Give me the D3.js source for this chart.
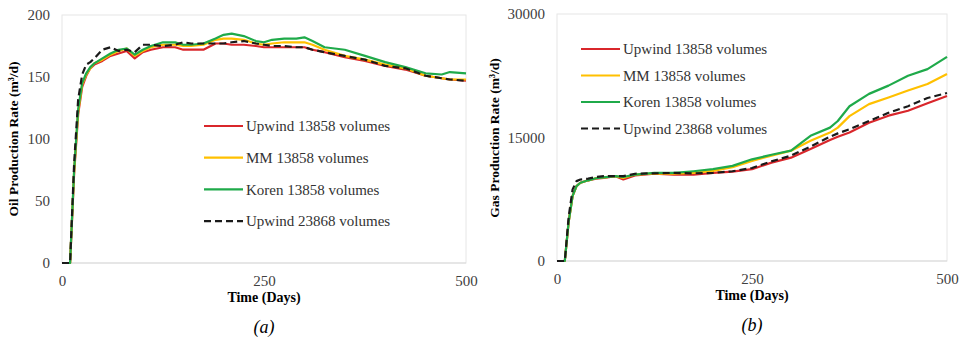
<!DOCTYPE html>
<html>
<head>
<meta charset="utf-8">
<script src="https://cdn.jsdelivr.net/npm/d3@7/dist/d3.min.js"></script>
<style>
  body { margin: 0; background: #fff; }
  svg text { font-family: "Liberation Serif", "DejaVu Serif", serif; }
</style>
</head>
<body>
<svg id="chart" width="961" height="343"></svg>
<script>
// series names / colours
const seriesNames = ["Upwind 13858 volumes", "MM 13858 volumes", "Koren 13858 volumes", "Upwind 23868 volumes"];
const seriesColors = ["#d9262b", "#ffc000", "#1faa4a", "#1a1a1a"];
const serif = "Liberation Serif, DejaVu Serif, serif";

// (a) oil production rate, m3/d
const oilDays   = [0, 10, 15, 20, 25, 30, 35, 40, 50, 60, 70, 80, 90, 100, 110, 125, 140, 150, 160, 175, 190, 200, 210, 225, 240, 250, 260, 275, 290, 300, 310, 325, 350, 375, 400, 425, 450, 470, 480, 500];
const oilUpwind = [0, 0, 72, 120, 142, 151, 157, 160, 163, 167, 169, 171, 165, 170, 172, 174, 174, 172, 172, 172, 177, 177, 176, 176, 175, 174, 174, 174, 174, 174, 172, 170, 166, 163, 159, 156, 151, 149, 148, 147];
const oilMM     = [0, 0, 74, 122, 144, 152, 157, 161, 164, 168, 171, 173, 167, 171, 174, 176, 176, 175, 175, 176, 180, 181, 181, 180, 177, 176, 177, 178, 178, 178, 176, 172, 167, 164, 160, 157, 151, 149, 148, 148];
const oilKoren  = [0, 0, 75, 124, 145, 153, 158, 161, 165, 169, 172, 173, 168, 172, 175, 178, 178, 176, 176, 177, 181, 184, 185, 183, 179, 178, 180, 181, 181, 182, 179, 174, 172, 167, 162, 158, 153, 152, 154, 153];
const oilFine   = [0, 0, 80, 132, 152, 160, 162, 165, 172, 174, 171, 172, 170, 176, 176, 175, 176, 178, 177, 177, 177, 177, 178, 179, 177, 176, 175, 175, 174, 174, 172, 170, 167, 164, 159, 157, 151, 149, 148, 147];

// (b) gas production rate, m3/d
const gasDays   = [0, 10, 15, 20, 25, 30, 40, 50, 60, 75, 85, 100, 125, 150, 175, 200, 225, 250, 275, 300, 325, 350, 360, 375, 400, 425, 450, 475, 500];
const gasUpwind = [0, 0, 4800, 7900, 9100, 9500, 9800, 10000, 10100, 10300, 9900, 10400, 10600, 10500, 10500, 10700, 10850, 11150, 11950, 12550, 13600, 14700, 15100, 15600, 16800, 17650, 18250, 19150, 20050];
const gasMM     = [0, 0, 4800, 7900, 9100, 9500, 9800, 10050, 10150, 10300, 10100, 10500, 10650, 10600, 10700, 10950, 11400, 12150, 12800, 13400, 14600, 15600, 16200, 17600, 19050, 19850, 20700, 21500, 22700];
const gasKoren  = [0, 0, 4800, 7900, 9100, 9500, 9800, 10050, 10150, 10300, 10200, 10500, 10700, 10700, 10900, 11150, 11550, 12350, 12900, 13400, 15200, 16200, 17000, 18800, 20300, 21300, 22500, 23300, 24800];
const gasFine   = [0, 0, 5400, 8700, 9700, 9900, 10000, 10200, 10300, 10300, 10300, 10600, 10650, 10700, 10650, 10700, 10900, 11300, 12100, 12800, 13900, 15100, 15500, 16000, 17000, 18000, 18800, 19800, 20400];

const xTicks = [0, 250, 500];
const oilTicks = [0, 50, 100, 150, 200];
const gasTicks = [0, 15000, 30000];

let svg = d3.select("#chart");

function drawChart(opt) {
    let x = d3.scaleLinear().domain([0, 500]).range([opt.left, opt.right]);
    let y = d3.scaleLinear().domain(opt.yDomain).range([opt.bottom, opt.top]);
    let g = svg.append("g");

    // plot frame
    g.append("rect")
        .attr("x", opt.left).attr("y", opt.top)
        .attr("width", opt.right - opt.left).attr("height", opt.bottom - opt.top)
        .attr("fill", "none").attr("stroke", "#e6e6e6").attr("stroke-width", 1);
    g.append("line")
        .attr("x1", opt.left).attr("x2", opt.right)
        .attr("y1", opt.bottom).attr("y2", opt.bottom)
        .attr("stroke", "#d9d9d9");

    let yAxis = g.append("g")
        .attr("transform", "translate(" + (opt.left - 12) + ",0)")
        .call(d3.axisLeft(y).tickValues(opt.yTicks).tickSize(0).tickPadding(0).tickFormat(d3.format("d")));
    yAxis.select(".domain").remove();

    let xAxis = g.append("g")
        .attr("transform", "translate(0," + (opt.bottom + 12) + ")")
        .call(d3.axisBottom(x).tickValues(xTicks).tickSize(0).tickPadding(0));
    xAxis.select(".domain").remove();

    [yAxis, xAxis].forEach(a => a.attr("font-family", serif).attr("font-size", 15)
        .selectAll("text").attr("fill", "#404040"));

    // titles
    g.append("text")
        .attr("x", (opt.left + opt.right) / 2)
        .attr("y", opt.bottom + 39)
        .attr("text-anchor", "middle")
        .attr("font-family", serif)
        .style("font-weight", "bold").style("font-size", "14px")
        .text("Time (Days)");
    g.append("text")
        .attr("transform", "translate(" + opt.yTitleX + "," + opt.yTitleY + ") rotate(-90)")
        .attr("text-anchor", "middle")
        .attr("font-family", serif)
        .style("font-weight", "bold").style("font-size", "13.5px")
        .text(opt.yTitle);
    g.append("text")
        .attr("x", (opt.left + opt.right) / 2)
        .attr("y", opt.bottom + 70)
        .attr("text-anchor", "middle")
        .attr("font-family", serif)
        .style("font-style", "italic").style("font-size", "18px")
        .text(opt.label);

    let line = d3.line()
        .x(d => x(d[0]))
        .y(d => y(d[1]));

    opt.series.forEach(function (vals, i) {
        g.append("path")
            .datum(opt.days.map((d, j) => [d, vals[j]]))
            .attr("fill", "none")
            .attr("stroke", seriesColors[i])
            .attr("stroke-width", 2.2)
            .attr("stroke-linejoin", "round")
            .attr("stroke-dasharray", i === 3 ? "7,4" : null)
            .attr("d", line);
    });

    // legend
    let leg = g.selectAll(".leg")
        .data(seriesNames)
        .enter().append("g")
        .attr("transform", (d, i) => "translate(" + opt.legX + "," + (opt.legY + i * opt.legStep) + ")");
    leg.append("line")
        .attr("x1", 0).attr("x2", 39)
        .attr("stroke", (d, i) => seriesColors[i])
        .attr("stroke-width", 2.2)
        .attr("stroke-dasharray", (d, i) => i === 3 ? "7,4" : null);
    leg.append("text")
        .attr("x", 42).attr("dy", "0.35em")
        .attr("font-family", serif)
        .style("font-size", "15px").attr("fill", "#333")
        .text(d => d);
}

drawChart({
    left: 62, right: 466, top: 15, bottom: 263,
    yDomain: [0, 200], yTicks: oilTicks,
    days: oilDays, series: [oilUpwind, oilMM, oilKoren, oilFine],
    yTitle: "Oil Production Rate (m\u00b3/d)", yTitleX: 18, yTitleY: 139,
    label: "(a)",
    legX: 204, legY: 126, legStep: 31.7
});

drawChart({
    left: 557, right: 947, top: 14, bottom: 261,
    yDomain: [0, 30000], yTicks: gasTicks,
    days: gasDays, series: [gasUpwind, gasMM, gasKoren, gasFine],
    yTitle: "Gas Production Rate (m\u00b3/d)", yTitleX: 499, yTitleY: 138,
    label: "(b)",
    legX: 581, legY: 49, legStep: 26.5
});
</script>
</body>
</html>
